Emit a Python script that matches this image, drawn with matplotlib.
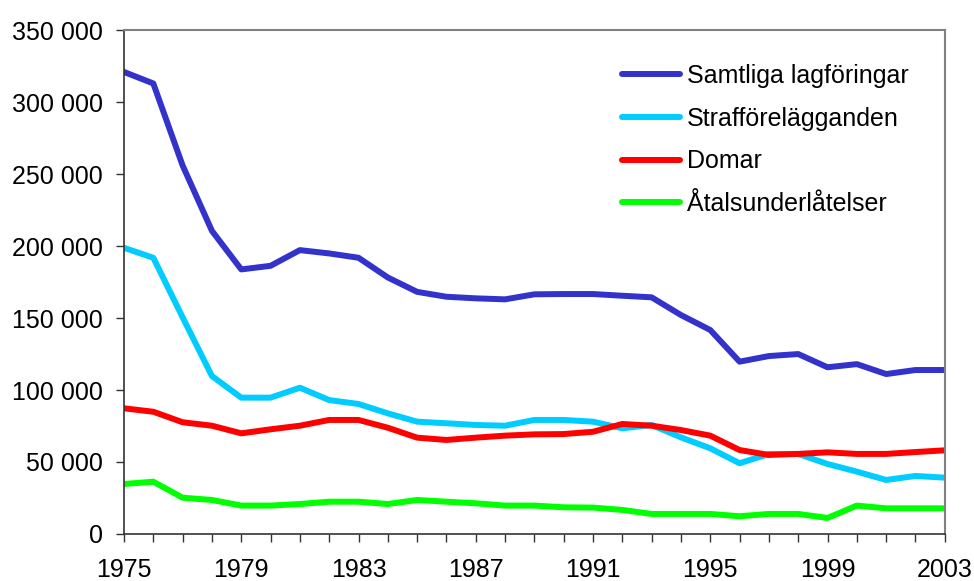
import matplotlib
matplotlib.use("Agg")
import matplotlib.pyplot as plt
from matplotlib.ticker import MultipleLocator, FuncFormatter

plt.rcParams['font.family'] = ['Liberation Sans', 'DejaVu Sans']

years = list(range(1975, 2004))
year_ticks = [1975, 1979, 1983, 1987, 1991, 1995, 1999, 2003]

samtliga = [321000, 313000, 256000, 210600, 183800, 186300, 197200, 194900, 191900, 178200,
            168200, 164800, 163700, 163000, 166500, 166700, 166700, 165500, 164400, 152100,
            141700, 119700, 123600, 125000, 115800, 118000, 111100, 113900, 113900]
straff = [198800, 191900, 150500, 109700, 94700, 94700, 101600, 93000, 90300, 83800,
          78000, 76900, 75700, 75200, 79200, 79200, 78000, 73400, 75700, 67100,
          59500, 49100, 55600, 55600, 48600, 43300, 37500, 40300, 39100]
domar = [87300, 84900, 77600, 75200, 69900, 72700, 75200, 79200, 79200, 73800,
         66900, 65300, 66900, 68300, 69200, 69400, 71000, 76400, 75200, 72200,
         68300, 58300, 54900, 55600, 56700, 55600, 55600, 56900, 58100]
atal = [34700, 36300, 25200, 23600, 19700, 19700, 20800, 22400, 22400, 20800,
        23600, 22400, 21300, 19700, 19700, 18500, 18300, 16700, 13900, 13900,
        13900, 12300, 13900, 13900, 11100, 19700, 17800, 17800, 17800]

series = [
    ("Samtliga lagföringar", samtliga, "#3333CC"),
    ("Strafförelägganden", straff, "#00CCFF"),
    ("Domar", domar, "#FF0000"),
    ("Åtalsunderlåtelser", atal, "#00FF00"),
]

fig = plt.figure(figsize=(9.74, 5.81), dpi=100)
ax = fig.add_axes([0.1273, 0.081, 0.8427, 0.867])

for name, vals, col in series:
    ax.plot(years, vals, color=col, lw=4.3, label=name, solid_capstyle='round',
            solid_joinstyle='round')

ax.set_xlim(1975, 2003)
ax.set_ylim(0, 350000)
ax.set_xticks(year_ticks)
ax.xaxis.set_minor_locator(MultipleLocator(1))
ax.yaxis.set_major_locator(MultipleLocator(50000))
ax.yaxis.set_major_formatter(FuncFormatter(lambda v, p: f"{int(v):,}".replace(",", " ")))

ax.tick_params(axis='both', which='both', direction='out', length=6, width=1,
               labelsize=18, color='#333333')
ax.tick_params(axis='x', which='major', pad=11)
ax.tick_params(axis='y', which='major', pad=9)

for s in ['left', 'bottom']:
    ax.spines[s].set_color('#333333')
    ax.spines[s].set_linewidth(1.2)
for s in ['top', 'right']:
    ax.spines[s].set_color('#808080')
    ax.spines[s].set_linewidth(1.5)

ax.legend(loc='upper left', bbox_to_anchor=(0.594, 0.953), frameon=False, fontsize=18,
          handlelength=2.35, handletextpad=0.25, labelspacing=0.75, borderaxespad=0)

fig.savefig("out.png", dpi=100)
